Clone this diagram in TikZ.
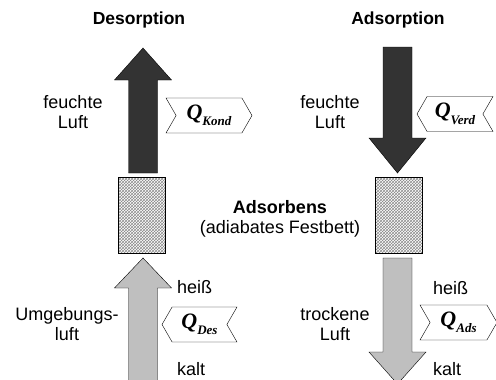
\documentclass[tikz,border=0pt]{standalone}
\usepackage{fontspec}
\setmainfont{Liberation Sans}
\newfontfamily\qfont{Liberation Serif}
\usetikzlibrary{patterns,shapes.symbols}
\newcommand\pfeil[5]{\path[#1] (#2-14.5,#3) -- (#2-14.5,#4) -- (#2-28.5,#4) -- (#2,#5) -- (#2+28.5,#4) -- (#2+14.5,#4) -- (#2+14.5,#3) -- cycle;}
\newcommand\qwert[1]{{\qfont\bfseries\itshape\fontsize{22}{22}\selectfont Q\raisebox{-6.5pt}{\fontsize{13}{13}\selectfont #1}}}

\begin{document}
\begin{tikzpicture}[x=1pt,y=-1pt]
\tikzstyle{every node}=[font=\fontsize{18}{20}\selectfont]
\tikzstyle{titel}=[font=\fontsize{17.5}{20}\selectfont\bfseries]
\tikzstyle{txt}=[align=center,inner sep=0]
\tikzstyle{bett}=[draw,pattern=crosshatch,pattern color=black!45,minimum width=47,minimum height=76,inner sep=0]
\tikzstyle{feucht}=[draw,fill=black!80]
\tikzstyle{trocken}=[draw,fill=black!25]
\tikzstyle{qrechts}=[signal,draw,fill=white,signal to=east,signal from=west,signal pointer angle=120,minimum height=35,inner sep=0]
\tikzstyle{qlinks}=[signal,draw,fill=white,signal to=west,signal from=east,signal pointer angle=120,minimum height=35,inner sep=0]

\useasboundingbox (0,0) rectangle (496,380);
\clip (0,0) rectangle (496,380);

%% festbetten
\node[bett] (bettDes) at (142,215) {};
\node[bett] (bettAds) at (399,215) {};

%% luftstroeme
\pfeil{feucht}{143}{173}{80}{48}
\pfeil{trocken}{143}{395}{288}{258}
\pfeil{feucht}{397.5}{47}{138}{173}
\pfeil{trocken}{397.5}{258}{352}{384}

%% beschriftung
\node[titel] (des) at (139,20) {Desorption};
\node[titel] (ads) at (398,20) {Adsorption};
\node[txt] (luftDes) at (73,112) {feuchte\\Luft};
\node[txt] (luftAds) at (330,112) {feuchte\\Luft};
\node[txt] (umg) at (67,324) {Umgebungs-\\luft};
\node[txt] (trockenLuft) at (335,324) {trockene\\Luft};
\node[txt] (adsorbens) at (280,219) {\textbf{Adsorbens}\\(adiabates Festbett)};
\node[anchor=west,inner sep=0] (heissDes) at (177,287) {heiß};
\node[anchor=west,inner sep=0] (kaltDes) at (177,369.5) {kalt};
\node[anchor=west,inner sep=0] (heissAds) at (433,288) {heiß};
\node[anchor=west,inner sep=0] (kaltAds) at (433,369.5) {kalt};

%% waermestroeme
\node[qrechts,minimum width=86] (qKond) at (209,115.5) {\qwert{Kond}};
\node[qlinks,minimum width=76] (qVerd) at (455,114) {\qwert{Verd}};
\node[qlinks,minimum width=75] (qDes) at (199.5,324.5) {\qwert{Des}};
\node[qrechts,minimum width=77] (qAds) at (458.5,322.5) {\qwert{Ads}};
\end{tikzpicture}
\end{document}
